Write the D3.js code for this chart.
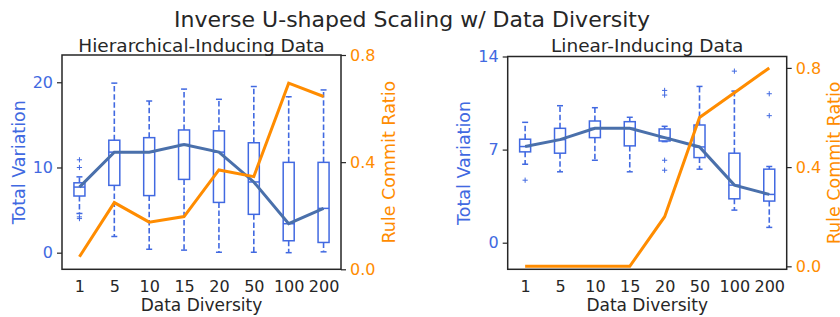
<!DOCTYPE html>
<html>
<head>
<meta charset="utf-8">
<script src="https://cdn.jsdelivr.net/npm/d3@7"></script>
<style>
    body { margin: 0; background: #fff; }
    svg text { font-family: "DejaVu Sans", sans-serif; }
</style>
</head>
<body>
<div class="graph"></div>
<script>
    // categories on the x axis
    const diversity = ["1", "5", "10", "15", "20", "50", "100", "200"];

    // Hierarchical-Inducing Data: box stats of Total Variation
    const hierLo  = [4.6, 1.9, 0.4, 0.3, 0.05, 0.05, 0.0, 0.1];
    const hierQ1  = [6.65, 7.9, 6.7, 8.6, 5.9, 4.5, 1.4, 1.2];
    const hierMed = [7.7, 11.8, 11.8, 12.7, 11.8, 8.3, 3.4, 5.2];
    const hierQ3  = [8.2, 13.2, 13.5, 14.4, 14.3, 12.9, 10.6, 10.6];
    const hierHi  = [8.9, 19.9, 17.8, 19.2, 18.0, 19.5, 18.3, 19.1];
    const hierFliers = [[10.9, 10.0, 4.2, 4.0], [], [], [], [], [], [], []];
    const hierRatio = [0.047, 0.249, 0.176, 0.197, 0.371, 0.346, 0.695, 0.645];

    // Linear-Inducing Data
    const linLo  = [5.9, 5.33, 6.2, 5.33, 7.6, 5.53, 2.45, 1.15];
    const linQ1  = [6.83, 6.73, 7.9, 7.28, 7.65, 6.4, 3.3, 3.13];
    const linMed = [7.23, 7.75, 8.6, 8.6, 7.9, 7.2, 4.33, 3.63];
    const linQ3  = [7.78, 8.6, 9.15, 9.1, 8.55, 8.85, 6.73, 5.53];
    const linHi  = [9.05, 10.3, 10.15, 9.43, 8.75, 11.75, 11.4, 5.73];
    const linFliers = [[4.7], [], [], [], [11.45, 11.1, 6.2, 5.45], [], [12.9], [11.2, 9.55]];
    const linRatio = [0.0, 0.0, 0.0, 0.0, 0.2, 0.6, 0.7, 0.8];

    const tvTicksHier = [0, 10, 20];
    const tvTicksLin = [0, 7, 14];
    const ratioTicks = [0.0, 0.4, 0.8];

    const boxColor = "#4169e1";
    const lineColor = "#4a70ab";
    const orange = "#ff8c00";
    const ink = "#262626";

    const width = 840, height = 317;

    const svg = d3.select(".graph").append("svg")
        .attr("width", width)
        .attr("height", height);

    svg.append("text")
        .attr("x", 412)
        .attr("y", 27)
        .attr("text-anchor", "middle")
        .style("font-size", "22px")
        .style("fill", ink)
        .text("Inverse U-shaped Scaling w/ Data Diversity");

    function panel(opt) {
        const g = svg.append("g");
        const x = d3.scalePoint().domain(diversity).range([opt.x0, opt.x1]).padding(0.5);
        const yL = d3.scaleLinear().domain(opt.tvDomain).range([opt.y1, opt.y0]);
        const yR = d3.scaleLinear().domain(opt.ratioDomain).range([opt.y1, opt.y0]);

        const rows = diversity.map(function (d, i) {
            return {
                key: d, lo: opt.lo[i], q1: opt.q1[i], med: opt.med[i],
                q3: opt.q3[i], hi: opt.hi[i], fliers: opt.fliers[i], ratio: opt.ratio[i]
            };
        });

        const boxW = 11, capW = 6;

        // boxes
        const box = g.selectAll("g.box").data(rows).enter()
            .append("g").attr("class", "box")
            .attr("transform", function (d) { return "translate(" + x(d.key) + ",0)"; });

        box.append("line")
            .attr("y1", function (d) { return yL(d.q3); })
            .attr("y2", function (d) { return yL(d.hi); });
        box.append("line")
            .attr("y1", function (d) { return yL(d.q1); })
            .attr("y2", function (d) { return yL(d.lo); });
        box.selectAll("line")
            .attr("x1", 0).attr("x2", 0)
            .style("stroke", boxColor)
            .style("stroke-width", 1.6)
            .style("stroke-dasharray", "5.5,2.6");

        box.append("line").attr("class", "cap")
            .attr("x1", -capW / 2).attr("x2", capW / 2)
            .attr("y1", function (d) { return yL(d.hi); })
            .attr("y2", function (d) { return yL(d.hi); });
        box.append("line").attr("class", "cap")
            .attr("x1", -capW / 2).attr("x2", capW / 2)
            .attr("y1", function (d) { return yL(d.lo); })
            .attr("y2", function (d) { return yL(d.lo); });
        box.selectAll("line.cap")
            .style("stroke", boxColor)
            .style("stroke-width", 1.5)
            .style("stroke-dasharray", null);

        box.append("rect")
            .attr("x", -boxW / 2)
            .attr("width", boxW)
            .attr("y", function (d) { return yL(d.q3); })
            .attr("height", function (d) { return yL(d.q1) - yL(d.q3); })
            .style("fill", "none")
            .style("stroke", boxColor)
            .style("stroke-width", 1.5);

        box.append("line")
            .attr("x1", -boxW / 2).attr("x2", boxW / 2)
            .attr("y1", function (d) { return yL(d.med); })
            .attr("y2", function (d) { return yL(d.med); })
            .style("stroke", boxColor)
            .style("stroke-width", 1.5);

        // fliers as '+'
        const fl = box.selectAll("g.flier")
            .data(function (d) { return d.fliers; })
            .enter().append("g").attr("class", "flier")
            .attr("transform", function (v) { return "translate(0," + yL(v) + ")"; });
        fl.append("path")
            .attr("d", "M-2.6,0H2.6M0,-2.6V2.6")
            .style("stroke", boxColor)
            .style("stroke-width", 1);

        // median trend line
        g.append("path")
            .datum(rows)
            .attr("d", d3.line().x(function (d) { return x(d.key); }).y(function (d) { return yL(d.med); }))
            .style("fill", "none")
            .style("stroke", lineColor)
            .style("stroke-width", 3);

        // rule commit ratio line
        g.append("path")
            .datum(rows)
            .attr("d", d3.line().x(function (d) { return x(d.key); }).y(function (d) { return yR(d.ratio); }))
            .style("fill", "none")
            .style("stroke", orange)
            .style("stroke-width", 3);

        // frame
        g.append("rect")
            .attr("x", opt.x0).attr("y", opt.y0)
            .attr("width", opt.x1 - opt.x0).attr("height", opt.y1 - opt.y0)
            .style("fill", "none")
            .style("stroke", ink)
            .style("stroke-width", 1.5);

        // axes
        const axL = g.append("g")
            .attr("transform", "translate(" + opt.x0 + ",0)")
            .call(d3.axisLeft(yL).tickValues(opt.tvTicks).tickSize(5).tickPadding(4));
        axL.selectAll("text").style("fill", boxColor);

        const axR = g.append("g")
            .attr("transform", "translate(" + opt.x1 + ",0)")
            .call(d3.axisRight(yR).tickValues(ratioTicks).tickFormat(d3.format(".1f")).tickSize(5).tickPadding(4));
        axR.selectAll("text").style("fill", orange);

        const axB = g.append("g")
            .attr("transform", "translate(0," + opt.y1 + ")")
            .call(d3.axisBottom(x).tickSize(0).tickPadding(11));
        axB.selectAll("text").style("fill", ink);

        g.selectAll(".domain").remove();
        g.selectAll(".tick line").style("stroke", ink).style("stroke-width", 1.2);
        g.selectAll(".tick text")
            .style("font-family", "DejaVu Sans, sans-serif")
            .style("font-size", "16px");

        // labels
        const cx = (opt.x0 + opt.x1) / 2, cy = (opt.y0 + opt.y1) / 2;
        g.append("text")
            .attr("x", cx).attr("y", 51.5)
            .attr("text-anchor", "middle")
            .style("font-size", "18.5px")
            .style("fill", ink)
            .text(opt.title);

        g.append("text")
            .attr("x", cx).attr("y", 311)
            .attr("text-anchor", "middle")
            .style("font-size", "17px")
            .style("fill", ink)
            .text("Data Diversity");

        g.append("text")
            .attr("transform", "translate(" + opt.leftLabelX + "," + cy + ")rotate(-90)")
            .attr("dy", "0.35em")
            .attr("text-anchor", "middle")
            .style("font-size", "17.5px")
            .style("fill", boxColor)
            .text("Total Variation");

        g.append("text")
            .attr("transform", "translate(" + opt.rightLabelX + "," + cy + ")rotate(-90)")
            .attr("dy", "0.35em")
            .attr("text-anchor", "middle")
            .style("font-size", "17.5px")
            .style("fill", orange)
            .text("Rule Commit Ratio");
    }

    panel({
        title: "Hierarchical-Inducing Data",
        x0: 62, x1: 341, y0: 55, y1: 269.3,
        tvDomain: [-1.95, 23.2], ratioDomain: [0, 0.8], tvTicks: tvTicksHier,
        lo: hierLo, q1: hierQ1, med: hierMed, q3: hierQ3, hi: hierHi,
        fliers: hierFliers, ratio: hierRatio,
        leftLabelX: 19, rightLabelX: 388.5
    });

    panel({
        title: "Linear-Inducing Data",
        x0: 507.7, x1: 786.7, y0: 56.5, y1: 269.3,
        tvDomain: [-2, 14], ratioDomain: [-0.012, 0.846], tvTicks: tvTicksLin,
        lo: linLo, q1: linQ1, med: linMed, q3: linQ3, hi: linHi,
        fliers: linFliers, ratio: linRatio,
        leftLabelX: 463.5, rightLabelX: 833.5
    });
</script>
</body>
</html>
